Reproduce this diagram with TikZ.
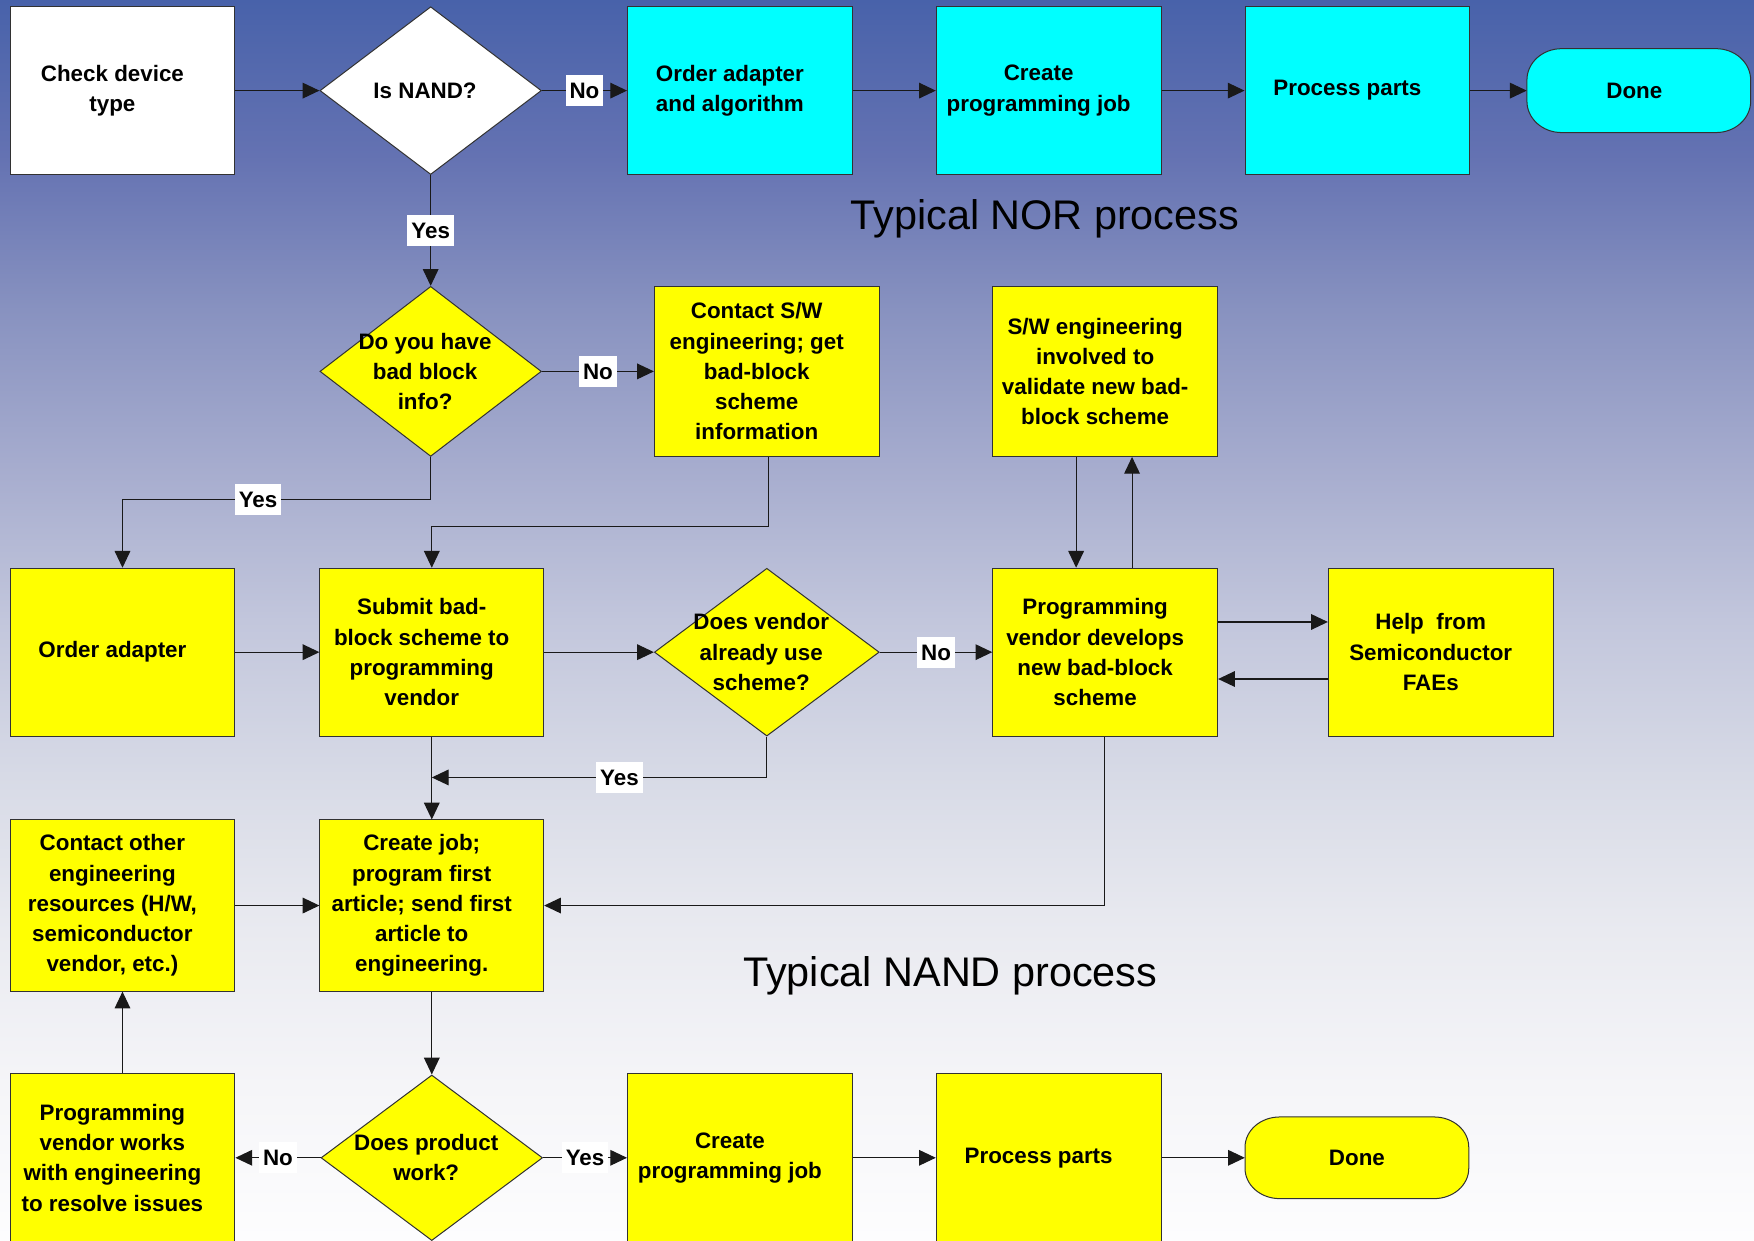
\documentclass[tikz,border=0pt]{standalone}
\usepackage{fontspec}
\setmainfont{Liberation Sans}
\usetikzlibrary{arrows.meta,shapes.geometric,calc}
\definecolor{cy}{RGB}{0,255,255}
\definecolor{ye}{RGB}{255,255,0}
\definecolor{bgA}{RGB}{253,253,254}
\definecolor{bgB}{RGB}{245,245,248}
\definecolor{bgC}{RGB}{233,234,240}
\definecolor{bgD}{RGB}{215,218,230}
\definecolor{bgE}{RGB}{194,198,220}
\definecolor{bgF}{RGB}{166,172,206}
\definecolor{bgG}{RGB}{136,146,192}
\definecolor{bgH}{RGB}{100,114,178}
\definecolor{bgI}{RGB}{72,98,170}
\definecolor{edge}{RGB}{50,50,50}
\pgfdeclareverticalshading{bgshade}{100bp}{color(0bp)=(bgA); color(25bp)=(bgA); color(31.25bp)=(bgB); color(37.5bp)=(bgC); color(43.75bp)=(bgD); color(50bp)=(bgE); color(56.25bp)=(bgF); color(62.5bp)=(bgG); color(68.75bp)=(bgH); color(75bp)=(bgI); color(100bp)=(bgI)}
\begin{document}
\begin{tikzpicture}[x=1pt,y=-1pt,
  box/.style={rectangle, draw=edge, line width=0.9pt, minimum width=201pt, minimum height=150pt, inner sep=0pt},
  dia/.style={diamond, draw=edge, line width=0.9pt, minimum width=198pt, minimum height=150pt, inner sep=0pt},
  txt/.style={font=\bfseries\fontsize{20}{27}\selectfont, align=center, inner sep=0pt},
  tx/.style={label={[txt,xshift=-9pt]center:#1}},
  dtx/.style={label={[txt,xshift=-5pt]center:#1}},
  lbl/.style={fill=white, font=\bfseries\fontsize{20}{24}\selectfont, inner xsep=3.5pt, inner ysep=0pt, minimum height=28pt, text height=14.5pt, text depth=0pt},
  arr/.style={-{Triangle[length=15pt,width=14pt]}, line width=1pt, draw=black!90},
  title/.style={font=\fontsize{37}{40}\selectfont, inner sep=0pt, anchor=base}
]
\useasboundingbox (0,0) rectangle (1568,1109);
\shade[shading=bgshade] (0,0) rectangle (1568,1109);

% ---------- terminator outlines ----------
\filldraw[fill=cy, draw=edge, line width=0.9pt]
  (1396,43.5) -- (1534,43.5) arc[start angle=90,end angle=0,x radius=31pt,y radius=28pt]
  -- (1565,90.5) arc[start angle=0,end angle=-90,x radius=31pt,y radius=28pt]
  -- (1396,118.5) arc[start angle=270,end angle=180,x radius=31pt,y radius=28pt]
  -- (1365,71.5) arc[start angle=180,end angle=90,x radius=31pt,y radius=28pt] -- cycle;
\filldraw[fill=ye, draw=edge, line width=0.9pt]
  (1144,998.5) -- (1282,998.5) arc[start angle=90,end angle=0,x radius=31pt,y radius=27pt]
  -- (1313,1044.5) arc[start angle=0,end angle=-90,x radius=31pt,y radius=27pt]
  -- (1144,1071.5) arc[start angle=270,end angle=180,x radius=31pt,y radius=27pt]
  -- (1113,1025.5) arc[start angle=180,end angle=90,x radius=31pt,y radius=27pt] -- cycle;

% ---------- row 1: NOR ----------
\node[box, fill=white, tx={Check device\\type}] (chk) at (109.5,81) {};
\node[dia, fill=white, dtx={Is NAND?}] (nand) at (385,81) {};
\node[box, fill=cy, tx={Order adapter\\and algorithm}] (ord) at (661.5,81) {};
\node[box, fill=cy, tx={Create\\programming job}] (crt) at (937.5,81) {};
\node[box, fill=cy, tx={Process parts}] (prc) at (1213.5,81) {};
\node[txt, minimum width=200pt, minimum height=75pt] (done1) at (1465,81) {\hspace*{-8pt}Done};
\node[title] (nor) at (934,205) {Typical NOR process};

% ---------- row 2 ----------
\node[dia, fill=ye, minimum height=152pt, dtx={Do you have\\bad block\\info?}] (bbi) at (385,332) {};
\node[box, fill=ye, minimum height=152pt, tx={Contact S/W\\engineering; get\\bad-block\\scheme\\information}] (cs) at (685.5,332) {};
\node[box, fill=ye, minimum height=152pt, tx={S/W engineering\\involved to\\validate new bad-\\block scheme}] (swe) at (988,332) {};

% ---------- row 3 ----------
\node[box, fill=ye, tx={Order adapter}] (oa) at (109.5,583) {};
\node[box, fill=ye, minimum width=200pt, tx={Submit bad-\\block scheme to\\programming\\vendor}] (sub) at (386,583) {};
\node[dia, fill=ye, minimum width=201pt, dtx={Does vendor\\already use\\scheme?}] (dv) at (685.5,583) {};
\node[box, fill=ye, tx={Programming\\vendor develops\\new bad-block\\scheme}] (pv) at (988,583) {};
\node[box, fill=ye, tx={Help\ \ from\\Semiconductor\\FAEs}] (help) at (1288,583) {};

% ---------- row 4 ----------
\node[box, fill=ye, minimum height=153pt, tx={Contact other\\engineering\\resources (H/W,\\semiconductor\\vendor, etc.)}] (co) at (109.5,809.5) {};
\node[box, fill=ye, minimum width=200pt, minimum height=153pt, tx={Create job;\\program first\\article; send first\\article to\\engineering.}] (cj) at (386,809.5) {};
\node[title] (nandt) at (849.5,882) {Typical NAND process};

% ---------- row 5 ----------
\node[box, fill=ye, tx={Programming\\vendor works\\with engineering\\to resolve issues}] (pvw) at (109.5,1035) {};
\node[dia, fill=ye, minimum height=148pt, dtx={Does product\\work?}] (dp) at (386,1035) {};
\node[box, fill=ye, tx={Create\\programming job}] (cpj) at (661.5,1035) {};
\node[box, fill=ye, tx={Process parts}] (pp) at (937.5,1035) {};
\node[txt, minimum width=200pt, minimum height=73pt] (done2) at (1213,1035) {Done};

% ---------- connectors ----------
\draw[arr] (chk.east) -- (nand.west);
\draw[arr] (nand.east) -- node[lbl]{No} (ord.west);
\draw[arr] (ord.east) -- (crt.west);
\draw[arr] (crt.east) -- (prc.west);
\draw[arr] (prc.east) -- (done1.west);
\draw[arr] (nand.south) -- node[lbl]{Yes} (bbi.north);
\draw[arr] (bbi.east) -- node[lbl]{No} (cs.west);
\draw[arr] (bbi.south) -- ++(0,38) -| node[lbl,pos=0.28]{Yes} (oa.north);
\draw[arr] ([xshift=1.5pt]cs.south) -- ++(0,62) -| (sub.north);
\draw[arr] (oa.east) -- (sub.west);
\draw[arr] (sub.east) -- (dv.west);
\draw[arr] (dv.east) -- node[lbl]{No} (pv.west);
\draw[arr] ([xshift=-26pt]swe.south) -- ([xshift=-26pt]pv.north);
\draw[arr] ([xshift=24pt]pv.north) -- ([xshift=24pt]swe.south);
\draw[arr] ([yshift=27pt]pv.east) -- ([yshift=27pt]pv.east -| help.west);
\draw[arr] ([yshift=-24pt]help.west) -- ([yshift=-24pt]help.west -| pv.east);
\coordinate (j1) at (386,695);
\draw[arr] (dv.south) |- node[lbl,pos=0.72]{Yes} (j1);
\draw[arr] (sub.south) -- (cj.north);
\draw[arr] ([xshift=-1pt]pv.south) |- (cj.east);
\draw[arr] (co.east) -- (cj.west);
\draw[arr] (cj.south) -- (dp.north);
\draw[arr] (dp.west) -- node[lbl]{No} (pvw.east);
\draw[arr] (dp.east) -- node[lbl]{Yes} (cpj.west);
\draw[arr] (cpj.east) -- (pp.west);
\draw[arr] (pp.east) -- (done2.west);
\draw[arr] (pvw.north) -- (co.south);
\end{tikzpicture}
\end{document}
